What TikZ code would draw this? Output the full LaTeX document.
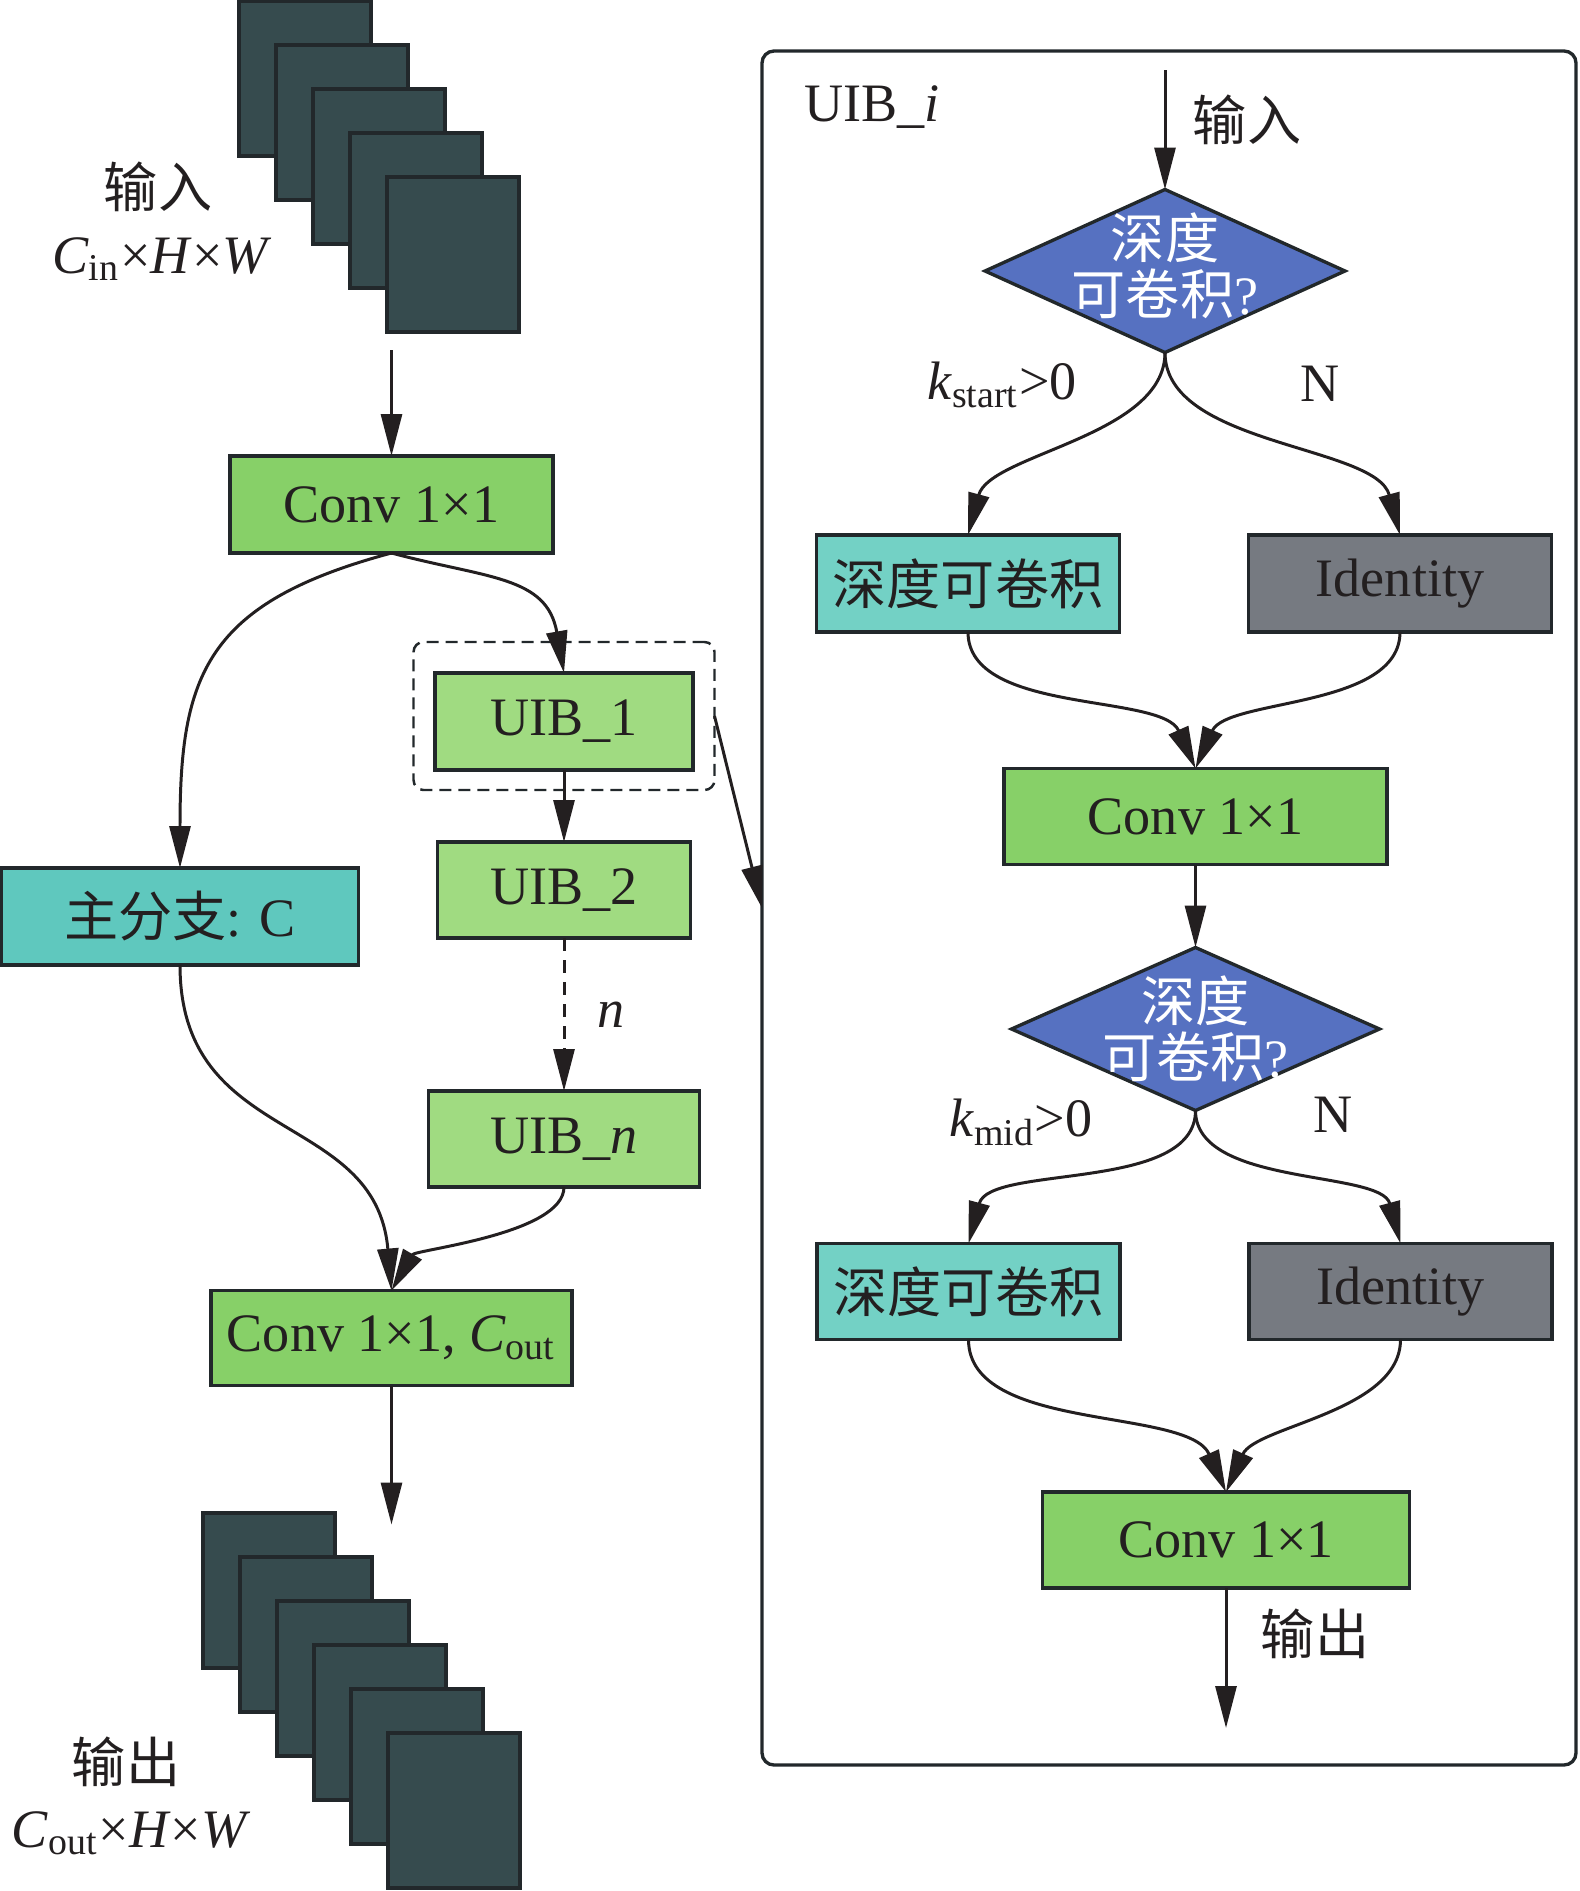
\documentclass[tikz,border=0pt]{standalone}
\usepackage{fontspec}
\setmainfont{Liberation Serif}
\newfontfamily\cjk{Noto Sans CJK SC}
\usepackage{tikz}
\usetikzlibrary{positioning,shapes.geometric,arrows.meta,fit}
\usepackage{xcolor}
\definecolor{mapfill}{HTML}{364B4E}
\definecolor{edge}{HTML}{22282B}
\definecolor{convgreen}{HTML}{87D068}
\definecolor{uibgreen}{HTML}{A0DB81}
\definecolor{mainteal}{HTML}{5FC8BE}
\definecolor{dwteal}{HTML}{73D1C5}
\definecolor{idgray}{HTML}{767A81}
\definecolor{askblue}{HTML}{5671C1}
\definecolor{ink}{HTML}{231F20}

\begin{document}
\begin{tikzpicture}[every node/.style={font=\fontsize{15.4}{18}\selectfont, text=ink}]
\tikzstyle{box}=[draw=edge, line width=0.95pt, minimum height=0.97cm, inner sep=0pt, outer sep=0pt]
\tikzstyle{conv}=[box, fill=convgreen]
\tikzstyle{uib}=[box, fill=uibgreen]
\tikzstyle{dw}=[box, fill=dwteal, minimum width=3.03cm]
\tikzstyle{idb}=[box, fill=idgray, minimum width=3.03cm]
\tikzstyle{ask}=[diamond, draw=edge, fill=askblue, line width=0.95pt, inner sep=0pt, outer sep=0pt, minimum width=3.6cm, minimum height=1.63cm]
\tikzstyle{fmap}=[draw=edge, fill=mapfill, line width=0.95pt, minimum width=1.32cm, minimum height=1.55cm, inner sep=0pt]
\tikzstyle{grpbox}=[draw=edge, line width=0.7pt, dash pattern=on 1.2mm off 0.7mm, rounded corners=0.1cm, outer sep=0pt]
\tikzstyle{arr}=[-{Triangle[length=4.2mm,width=2.1mm]}, draw=ink, line width=0.85pt]
\useasboundingbox (0,0) rectangle (15.79,-18.91);

% input / output feature maps
\foreach \i in {0,...,4}
  \node[fmap] (in\i) at ({3.05+0.37*\i}, {-0.785-0.44*\i}) {};
\foreach \i in {0,...,5}
  \node[fmap] (out\i) at ({2.69+0.37*\i}, {-15.905-0.44*\i}) {};
\node (inlab) at (1.58,-1.87) {\cjk 输入};
\node[anchor=base] (indim) at (1.62,-2.73) {\textit{C}\textsubscript{in}×\textit{H}×\textit{W}};
\node (outlab) at (1.26,-17.62) {\cjk 输出};
\node[anchor=base] (outdim) at (1.31,-18.47) {\textit{C}\textsubscript{out}×\textit{H}×\textit{W}};

% main column
\node[conv, minimum width=3.23cm] (c1) at (3.915,-5.045) {Conv 1×1};
\coordinate[above=1.06cm of c1] (inp);
\node[uib, minimum width=2.58cm, below=1.20cm of c1, xshift=1.725cm] (u1) {UIB\_1};
\node[grpbox, fit=(u1), inner xsep=0.215cm, inner ysep=0.255cm, yshift=0.055cm] (grp) {};
\node[uib, minimum width=2.53cm, minimum height=0.96cm, below=0.72cm of u1] (u2) {UIB\_2};
\node[uib, minimum width=2.71cm, minimum height=0.96cm, below=1.53cm of u2] (un) {UIB\_\textit{n}};
\node[box, fill=mainteal, minimum width=3.57cm, below=3.15cm of c1, xshift=-2.115cm] (main) {{\cjk 主分支}: C};
\node[conv, minimum width=3.61cm, minimum height=0.95cm, below=1.035cm of un, xshift=-1.725cm] (cout) {Conv 1×1, \textit{C}\textsubscript{out}};
\coordinate[below=1.39cm of cout] (outp);

\draw[arr] (inp) -- (c1);
\draw[arr] (c1.south) to[out=195, in=90, looseness=1.3] (main.north);
\draw[arr] (c1.south) to[out=-15, in=100, looseness=1.2] (u1.north);
\draw[arr] (u1) -- (u2);
\draw[arr, dash pattern=on 1.3mm off 0.9mm] (u2) -- node[right=0.2cm] (nlab) {\textit{n}} (un);
\draw[arr] (main.south) to[out=-90, in=95, looseness=1.2] (cout.north);
\draw[arr] (un.south) to[out=-90, in=60, looseness=0.6] (cout.north);
\draw[arr] (cout) -- (outp);

% UIB_i detail
\node[draw=edge, line width=0.95pt, rounded corners=0.12cm, minimum width=8.14cm, minimum height=17.14cm, outer sep=0pt] (uib) at (11.69,-9.08) {};
\node[anchor=base west] (uibname) at (7.92,-1.22) {UIB\_\textit{i}};
\draw[arr] (grp.east) -- (uib.west);

\node[ask, label={[text=white, align=center, font=\fontsize{15.4}{16}\selectfont, yshift=0.05cm]center:{\cjk 深度}\\{\cjk 可卷积}?}] (d1) at (11.65,-2.71) {};
\coordinate[above=1.19cm of d1] (uin);
\node (inlab2) at (12.47,-1.20) {\cjk 输入};
\node[dw, below=1.825cm of d1, xshift=-1.97cm] (dw1) {\cjk 深度可卷积};
\node[idb, right=1.29cm of dw1] (id1) {Identity};
\node[conv, minimum width=3.83cm, minimum height=0.96cm, below=1.365cm of dw1, xshift=2.275cm] (c2) {Conv 1×1};
\node[ask, minimum width=3.68cm, below=0.83cm of c2, label={[text=white, align=center, font=\fontsize{15.4}{16}\selectfont]center:{\cjk 深度}\\{\cjk 可卷积}?}] (d2) {};
\node[dw, minimum height=0.96cm, below=1.33cm of d2, xshift=-2.27cm] (dw2) {\cjk 深度可卷积};
\node[idb, minimum height=0.96cm, right=1.29cm of dw2] (id2) {Identity};
\node[conv, minimum width=3.67cm, minimum height=0.96cm, below=1.525cm of dw2, xshift=2.575cm] (c3) {Conv 1×1};
\coordinate[below=1.40cm of c3] (uout);
\node (outlab2) at (13.15,-16.34) {\cjk 输出};

\node (ks1) at (10.02,-3.85) {\textit{k}\textsubscript{start}>0};
\node (no1) at (13.20,-3.84) {N};
\node (km2) at (10.21,-11.22) {\textit{k}\textsubscript{mid}>0};
\node (no2) at (13.33,-11.15) {N};

\draw[arr] (uin) -- (d1);
\draw[arr] (d1.south) to[out=-90, in=75, looseness=0.8] (dw1.north);
\draw[arr] (d1.south) to[out=-90, in=105, looseness=0.8] (id1.north);
\draw[arr] (dw1.south) to[out=-90, in=114, looseness=0.8] (c2.north);
\draw[arr] (id1.south) to[out=-90, in=66, looseness=0.8] (c2.north);
\draw[arr] (c2) -- (d2);
\draw[arr] (d2.south) to[out=-90, in=75, looseness=0.8] (dw2.north);
\draw[arr] (d2.south) to[out=-90, in=105, looseness=0.8] (id2.north);
\draw[arr] (dw2.south) to[out=-90, in=114, looseness=0.8] (c3.north);
\draw[arr] (id2.south) to[out=-90, in=66, looseness=0.8] (c3.north);
\draw[arr] (c3) -- (uout);
\end{tikzpicture}
\end{document}
